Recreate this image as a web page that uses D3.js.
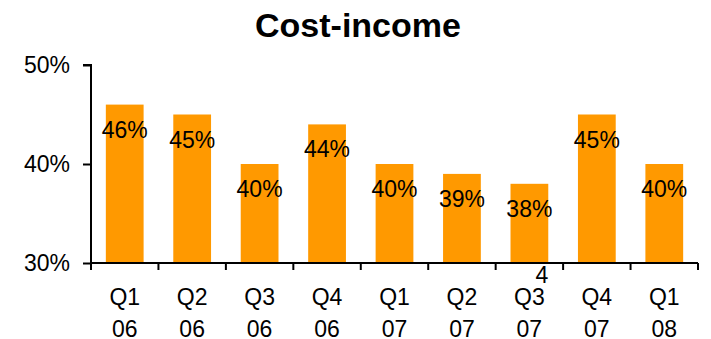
<!DOCTYPE html>
<html>
<head>
<meta charset="utf-8">
<script src="https://cdn.jsdelivr.net/npm/d3@7"></script>
<style>
  html, body { margin: 0; padding: 0; background: #fff; }
  svg { display: block; }
  text { font-family: "Liberation Sans", Arial, sans-serif; fill: #000; }
</style>
</head>
<body>
<svg id="chart" width="711" height="339"></svg>
<script>
// Quarterly cost-income ratio
const quarters = ["Q1", "Q2", "Q3", "Q4", "Q1", "Q2", "Q3", "Q4", "Q1"];
const years    = ["06", "06", "06", "06", "07", "07", "07", "07", "08"];
const costIncome = [46, 45, 40, 44, 40, 39, 38, 45, 40];
const yTicks = [30, 40, 50];

const svg = d3.select("#chart");
const plotLeft = 91, plotRight = 698, plotTop = 65, plotBottom = 263;

const x = d3.scaleBand()
  .domain(d3.range(costIncome.length))
  .range([plotLeft, plotRight])
  .paddingInner(0.44)
  .paddingOuter(0.22);

const y = d3.scaleLinear().domain([30, 50]).range([plotBottom, plotTop]);

// Title
svg.append("text")
  .attr("x", 358).attr("y", 37)
  .attr("text-anchor", "middle")
  .style("font-size", "34px").style("font-weight", "bold")
  .text("Cost-income");

// Bars
svg.append("g").selectAll("rect")
  .data(costIncome)
  .join("rect")
  .attr("x", (d, i) => x(i))
  .attr("width", x.bandwidth())
  .attr("y", d => y(d))
  .attr("height", d => y(30) - y(d))
  .attr("fill", "#FF9900");

// Value labels inside the bars
svg.append("g").selectAll("text")
  .data(costIncome)
  .join("text")
  .attr("x", (d, i) => x(i) + x.bandwidth() / 2)
  .attr("y", d => y(d) + 25)
  .attr("dy", "0.35em")
  .attr("text-anchor", "middle")
  .style("font-size", "23px")
  .text(d => d + "%");

// Y axis
const yAxis = d3.axisLeft(y)
  .tickValues(yTicks)
  .tickSize(8)
  .tickPadding(13)
  .tickFormat(d => d + "%");
const gy = svg.append("g").attr("transform", `translate(${plotLeft},0)`).call(yAxis);
gy.attr("font-family", null).attr("font-size", null);
gy.select(".domain").attr("stroke", "#000").attr("stroke-width", 2).attr("d", `M-8,${plotTop}H0V${plotBottom}`);
gy.selectAll(".tick line").attr("stroke", "#000").attr("stroke-width", 2);
gy.selectAll(".tick text").style("font-size", "23px");

// X axis: ticks on category boundaries
const boundaries = d3.range(costIncome.length + 1)
  .map(i => plotLeft + i * (plotRight - plotLeft) / costIncome.length);
const gx = svg.append("g");
gx.append("line")
  .attr("x1", plotLeft).attr("x2", plotRight)
  .attr("y1", plotBottom).attr("y2", plotBottom)
  .attr("stroke", "#000").attr("stroke-width", 2);
gx.selectAll("line.tick")
  .data(boundaries)
  .join("line")
  .attr("class", "tick")
  .attr("x1", d => d).attr("x2", d => d)
  .attr("y1", plotBottom).attr("y2", plotBottom + 7)
  .attr("stroke", "#000").attr("stroke-width", 2);

const xl = gx.selectAll("text.cat")
  .data(quarters)
  .join("text")
  .attr("class", "cat")
  .attr("text-anchor", "middle")
  .style("font-size", "23px");
xl.append("tspan")
  .attr("x", (d, i) => x(i) + x.bandwidth() / 2)
  .attr("y", 305)
  .text(d => d);
xl.append("tspan")
  .attr("x", (d, i) => x(i) + x.bandwidth() / 2)
  .attr("y", 337)
  .text((d, i) => years[i]);

// Page number
svg.append("text")
  .attr("x", 542).attr("y", 283)
  .attr("text-anchor", "middle")
  .style("font-size", "23px")
  .text("4");
</script>
</body>
</html>
